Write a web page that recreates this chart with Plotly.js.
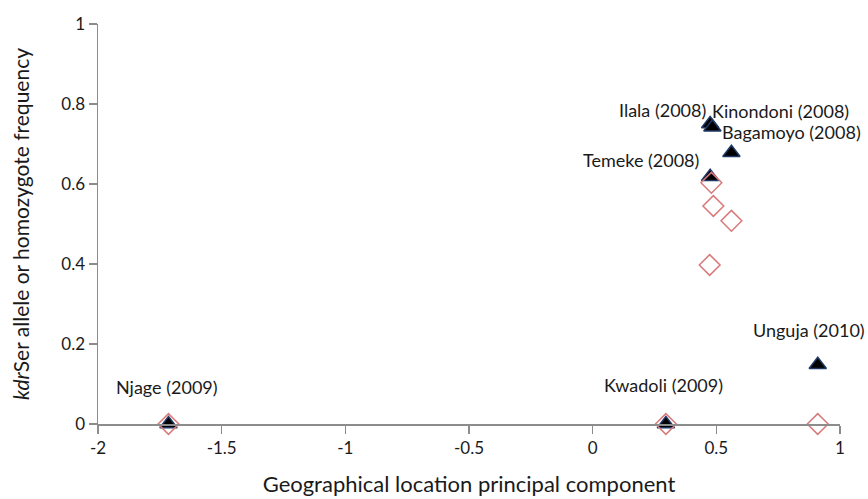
<!DOCTYPE html>
<html>
<head>
<meta charset="utf-8">
<script src="https://cdn.plot.ly/plotly-3.0.1.min.js"></script>
<style>html,body{margin:0;padding:0;background:#fff;}#chart{width:868px;height:499px;}</style>
</head>
<body>
<div id="chart"></div>
<script>
const populations = ["Njage (2009)", "Kwadoli (2009)", "Unguja (2010)", "Ilala (2008)", "Kinondoni (2008)", "Bagamoyo (2008)", "Temeke (2008)"];
const pcLocation = [-1.715, 0.296, 0.91, 0.475, 0.484, 0.561, 0.475];
const alleleFreq = [0, 0, 0.148, 0.75, 0.742, 0.678, 0.618];
const diamondX = [-1.715, 0.296, 0.91, 0.473, 0.488, 0.561, 0.48];
const homozygoteFreq = [0, 0, 0, 0.3975, 0.545, 0.508, 0.603];
const xTicks = [-2, -1.5, -1, -0.5, 0, 0.5, 1];
const yTicks = [0, 0.2, 0.4, 0.6, 0.8, 1];

// label placement (style only)
const labelAnchor = ["center", "center", "right", "right", "left", "left", "right"];
const labelShiftX = [-1, -2, 49, -2, -2, -11, -9];
const labelShiftY = [37, 39, 35, 14, 16, 21, 17];

const font = "Lato, 'Open Sans', sans-serif";

const triangles = {
  x: pcLocation, y: alleleFreq, type: "scatter", mode: "markers",
  marker: {symbol: "triangle-up", size: 15, color: "#000000", line: {color: "#1f3864", width: 1.5}},
  hoverinfo: "skip", showlegend: false, cliponaxis: false
};
const diamonds = {
  x: diamondX, y: homozygoteFreq, type: "scatter", mode: "markers",
  marker: {symbol: "diamond-open", size: 16, color: "#d9797a", line: {color: "#d9797a", width: 1.5}},
  hoverinfo: "skip", showlegend: false, cliponaxis: false
};

const annotations = populations.map((p, i) => ({
  x: pcLocation[i], y: alleleFreq[i], xref: "x", yref: "y",
  text: p, showarrow: false, xanchor: labelAnchor[i], yanchor: "middle",
  xshift: labelShiftX[i], yshift: labelShiftY[i],
  font: {family: font, size: 18, color: "#1a1a1a"}
}));

const layout = {
  width: 868, height: 499,
  margin: {l: 98, r: 28, t: 24, b: 75, pad: 0},
  paper_bgcolor: "#ffffff", plot_bgcolor: "#ffffff",
  font: {family: font, color: "#1a1a1a"},
  xaxis: {
    range: [-2, 1], tickvals: xTicks, ticktext: xTicks.map(String),
    showgrid: false, zeroline: false, showline: true, linecolor: "#8c8c8c", linewidth: 1.5,
    ticks: "outside", ticklen: 8, tickcolor: "#8c8c8c", tickwidth: 1.5,
    tickfont: {family: font, size: 17, color: "#1a1a1a"},
    title: {text: "Geographical location principal component", font: {family: font, size: 22, color: "#1a1a1a"}, standoff: 19}
  },
  yaxis: {
    range: [0, 1], tickvals: yTicks, ticktext: yTicks.map(String),
    showgrid: false, zeroline: false, showline: true, linecolor: "#8c8c8c", linewidth: 1.5,
    ticks: "outside", ticklen: 8, tickcolor: "#8c8c8c", tickwidth: 1.5,
    tickfont: {family: font, size: 17, color: "#1a1a1a"},
    title: {text: "<i>kdr</i>Ser allele or homozygote frequency", font: {family: font, size: 21, color: "#1a1a1a"}, standoff: 26}
  },
  annotations: annotations
};

Plotly.newPlot("chart", [triangles, diamonds], layout, {displayModeBar: false, staticPlot: true});
</script>
</body>
</html>
